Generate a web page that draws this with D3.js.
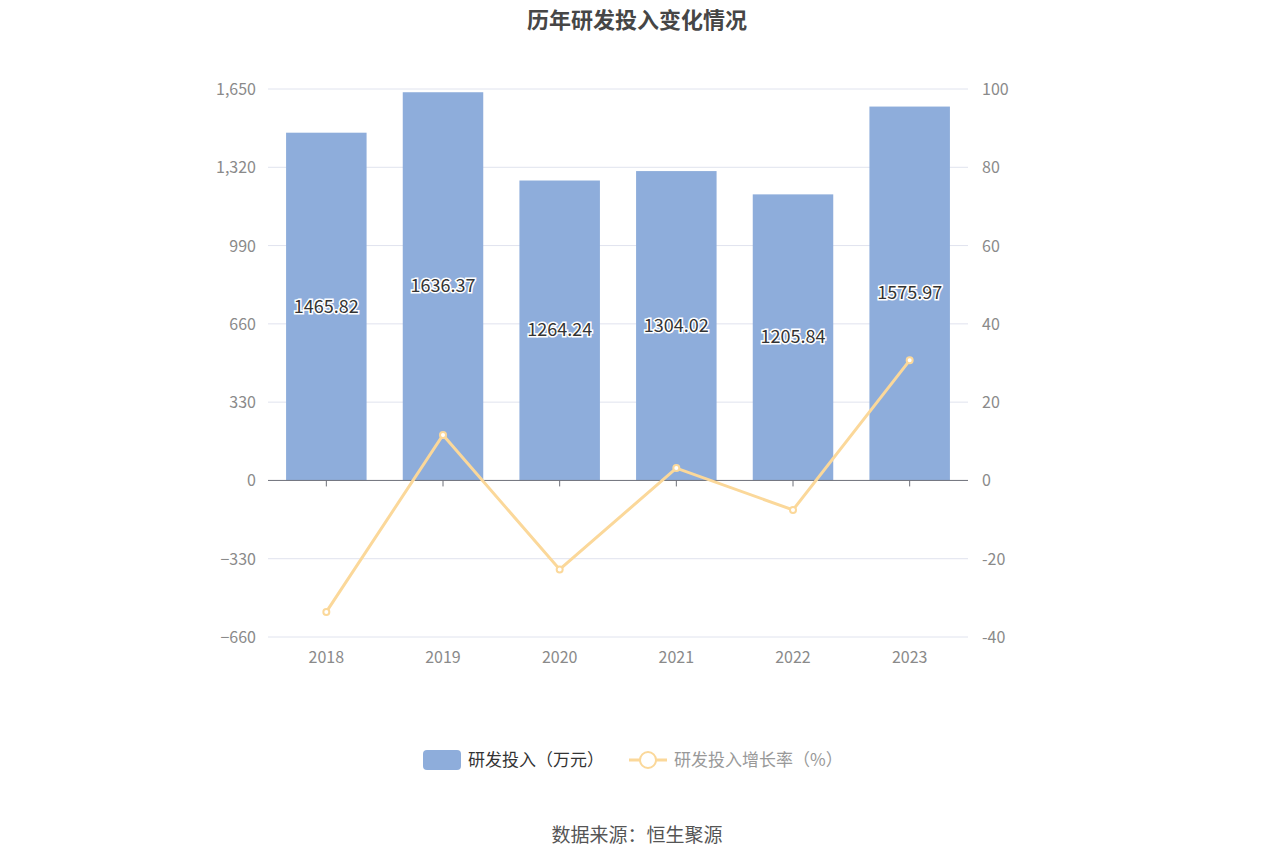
<!DOCTYPE html>
<html><head><meta charset="utf-8">
<script src="https://cdn.jsdelivr.net/npm/d3@7"></script>
<style>body{margin:0;background:#fff;font-family:"Noto Sans CJK SC","Noto Sans",sans-serif}</style>
</head><body><svg id="svg" width="1275" height="862"></svg>
<script>
'use strict'
const years = ['2018','2019','2020','2021','2022','2023']
const invest = [1465.82, 1636.37, 1264.24, 1304.02, 1205.84, 1575.97]
const growth = [-33.6, 11.63, -22.74, 3.15, -7.53, 30.69]
const leftTicks = [-660, -330, 0, 330, 660, 990, 1320, 1650]
const rightTicks = [-40, -20, 0, 20, 40, 60, 80, 100]

const svg = d3.select('#svg')
const x = d3.scaleBand().domain(years).range([268, 968])
const yL = d3.scaleLinear().domain([-660, 1650]).range([637, 89])
const yR = d3.scaleLinear().domain([-40, 100]).range([637, 89])

svg.append('text').attr('x', 637).attr('y', 28).attr('text-anchor', 'middle')
  .attr('font-size', 22).attr('font-weight', 'bold').attr('fill', '#464646').text('历年研发投入变化情况')

// grid
svg.selectAll('line.grid').data(leftTicks.filter(d => d !== 0)).join('line')
  .attr('x1', 268).attr('x2', 968).attr('y1', d => yL(d)).attr('y2', d => yL(d))
  .attr('stroke', '#e0e3ee')

svg.selectAll('text.yl').data(leftTicks).join('text')
  .attr('x', 256).attr('y', d => yL(d) + 6).attr('text-anchor', 'end')
  .attr('font-size', 16).attr('fill', '#8a8a8a').text(d => d3.format(',')(d))
svg.selectAll('text.yr').data(rightTicks).join('text')
  .attr('x', 982).attr('y', d => yR(d) + 6)
  .attr('font-size', 16).attr('fill', '#8a8a8a').text(d => d)

const bw = x.bandwidth() * 0.69
svg.selectAll('rect.bar').data(invest).join('rect')
  .attr('x', (d, i) => x(years[i]) + (x.bandwidth() - bw) / 2)
  .attr('y', d => yL(d)).attr('width', bw).attr('height', d => yL(0) - yL(d))
  .attr('fill', '#8eaddb')

// zero axis
svg.append('line').attr('x1', 268).attr('x2', 968).attr('y1', yL(0)).attr('y2', yL(0)).attr('stroke', '#6e7079')
svg.selectAll('line.tick').data(years).join('line')
  .attr('x1', d => x(d) + x.bandwidth() / 2).attr('x2', d => x(d) + x.bandwidth() / 2)
  .attr('y1', yL(0)).attr('y2', yL(0) + 6).attr('stroke', '#6e7079')
svg.selectAll('text.xl').data(years).join('text')
  .attr('x', d => x(d) + x.bandwidth() / 2).attr('y', 663).attr('text-anchor', 'middle')
  .attr('font-size', 16).attr('fill', '#8a8a8a').text(d => d)

// bar labels
svg.selectAll('text.bl').data(invest).join('text')
  .attr('x', (d, i) => x(years[i]) + x.bandwidth() / 2)
  .attr('y', d => (yL(d) + yL(0)) / 2 + 6).attr('text-anchor', 'middle')
  .attr('font-size', 18).attr('fill', '#333').attr('stroke', '#fff').attr('stroke-width', 3)
  .attr('paint-order', 'stroke').text(d => d.toFixed(2))

// growth line
const line = d3.line().x((d, i) => x(years[i]) + x.bandwidth() / 2).y(d => yR(d))
svg.append('path').datum(growth).attr('d', line).attr('fill', 'none')
  .attr('stroke', '#fbd89a').attr('stroke-width', 3)
svg.selectAll('circle.pt').data(growth).join('circle')
  .attr('cx', (d, i) => x(years[i]) + x.bandwidth() / 2).attr('cy', d => yR(d)).attr('r', 3)
  .attr('fill', '#fff').attr('stroke', '#fbd89a').attr('stroke-width', 2)

// legend
svg.append('rect').attr('x', 423).attr('y', 750).attr('width', 38).attr('height', 20).attr('rx', 4).attr('fill', '#8eaddb')
svg.append('text').attr('x', 468).attr('y', 766).attr('font-size', 17).attr('fill', '#333').text('研发投入（万元）')
svg.append('line').attr('x1', 629).attr('x2', 667).attr('y1', 760).attr('y2', 760).attr('stroke', '#fbd89a').attr('stroke-width', 3)
svg.append('circle').attr('cx', 648).attr('cy', 760).attr('r', 8).attr('fill', '#fff').attr('stroke', '#fbd89a').attr('stroke-width', 2)
svg.append('text').attr('x', 674).attr('y', 766).attr('font-size', 17).attr('fill', '#999').text('研发投入增长率（%）')

svg.append('text').attr('x', 637).attr('y', 842).attr('text-anchor', 'middle')
  .attr('font-size', 19).attr('fill', '#555').text('数据来源：恒生聚源')
</script></body></html>
